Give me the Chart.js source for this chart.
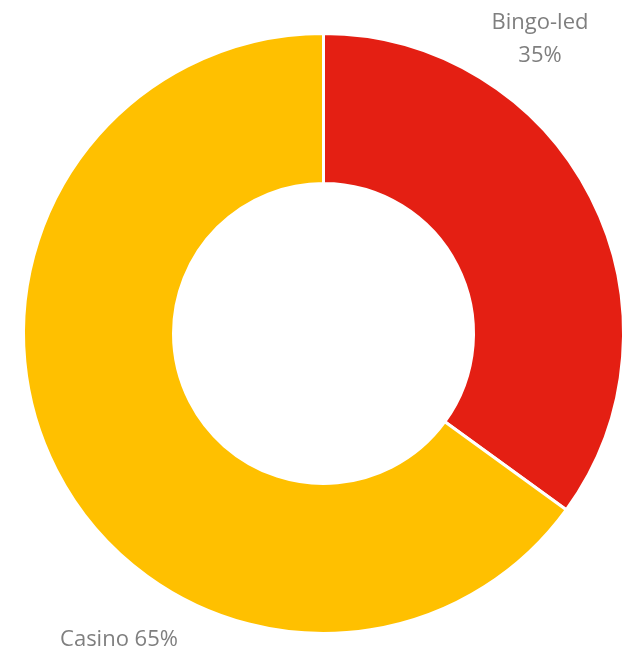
<!DOCTYPE html>
<html>
<head>
<meta charset="utf-8">
<script src="https://cdn.jsdelivr.net/npm/chart.js@4/dist/chart.umd.min.js"></script>
<style>
  html, body { margin: 0; padding: 0; background: #fff; }
  #wrap { width: 634px; height: 654px; }
</style>
</head>
<body>
<div id="wrap"><canvas id="donut" width="634" height="654"></canvas></div>
<script>
// share of total
const categories = ['Bingo-led', 'Casino'];
const shares = [35, 65];
const colors = ['#E41F13', '#FFC000'];

// label text drawn outside the ring, Excel style
const labelSpots = [
  { lines: ['Bingo-led', '35%'], x: 540, y: 23 },
  { lines: ['Casino 65%'], x: 119, y: 640 }
];

const outsideLabels = {
  id: 'outsideLabels',
  afterDraw(chart) {
    const ctx = chart.ctx;
    ctx.save();
    ctx.font = '22px "Open Sans"';
    ctx.fillStyle = '#7F7F7F';
    ctx.textAlign = 'center';
    ctx.textBaseline = 'middle';
    labelSpots.forEach(function (s) {
      s.lines.forEach(function (t, i) {
        ctx.fillText(t, s.x, s.y + i * 33);
      });
    });
    ctx.restore();
  }
};

const config = {
  type: 'doughnut',
  data: {
    labels: categories,
    datasets: [{
      data: shares,
      backgroundColor: colors,
      borderColor: '#ffffff',
      borderWidth: 3
    }]
  },
  options: {
    responsive: false,
    animation: false,
    cutout: '50%',
    rotation: 0,
    layout: {
      padding: { left: 22, right: 9, top: 31, bottom: 18 }
    },
    plugins: {
      legend: { display: false },
      tooltip: { enabled: false }
    }
  },
  plugins: [outsideLabels]
};

var donutChart = new Chart(document.getElementById('donut'), config);
</script>
</body>
</html>
